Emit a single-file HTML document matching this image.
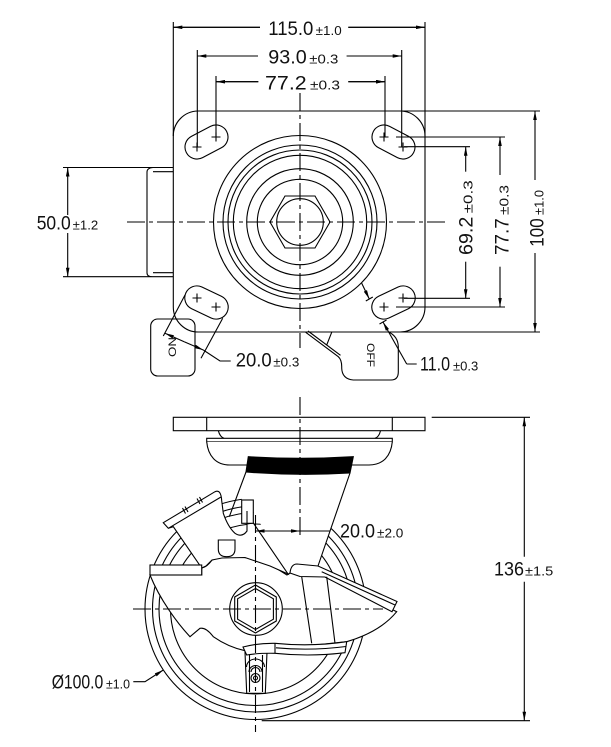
<!DOCTYPE html>
<html><head><meta charset="utf-8"><style>
html,body{margin:0;padding:0;background:#fff;}
svg{display:block;}
text{font-family:"Liberation Sans",sans-serif;fill:#111;}
.m{font-size:19px;}
.t{font-size:13px;}
.s{font-size:11px;}
</style></head><body>
<svg width="611" height="747" viewBox="0 0 611 747" xmlns="http://www.w3.org/2000/svg">
<defs>
<marker id="a" viewBox="0 0 10 4" refX="10" refY="2" markerWidth="10" markerHeight="3.6" markerUnits="userSpaceOnUse" orient="auto"><path d="M0,0L10,2L0,4Z" fill="#000"/></marker>
</defs>
<g fill="none" stroke="#000" stroke-width="1.1">
<!-- ===== TOP VIEW ===== -->
<path d="M173.3,22V307 M425,22V307 M198,111H540 M195,332H540"/>
<path d="M173.3,136A25,25 0 0 1 198,111 M400,111A25,25 0 0 1 425,136 M425,307A25,25 0 0 1 400,332 M199,332A25,25 0 0 1 173.3,307"/>
<!-- slots -->
<rect x="-22.75" y="-12" width="45.5" height="24" rx="12" transform="translate(206.5,142) rotate(-27.8)"/>
<rect x="-22.75" y="-12" width="45.5" height="24" rx="12" transform="translate(393.5,142) rotate(27.8)"/>
<rect x="-22.75" y="-12" width="45.5" height="24" rx="12" transform="translate(206.5,302.5) rotate(25.3)"/>
<rect x="-22.75" y="-12" width="45.5" height="24" rx="12" transform="translate(393.5,302.5) rotate(-25.3)"/>
<path d="M192.5,147h9M197,142.5v9 M211.5,137h9M216,132.5v9 M379.5,137h9M384,132.5v9 M398.5,147h9M403,142.5v9 M192.5,298h9M197,293.5v9 M211.5,307h9M216,302.5v9 M379.5,307h9M384,302.5v9 M398.5,298h9M403,293.5v9"/>
<!-- circles -->
<circle cx="300" cy="222" r="86.5"/>
<circle cx="300" cy="222" r="77"/>
<circle cx="300" cy="222" r="72"/>
<circle cx="300" cy="222" r="66.7"/>
<circle cx="300" cy="222" r="53.3"/>
<circle cx="300" cy="222" r="42.7"/>
<circle cx="300" cy="222" r="23.3"/>
<path d="M330,222L315,248H285L270,222L285,196H315Z"/>
<!-- centerlines -->
<path d="M300,93V348 M127,222H447" stroke-dasharray="18 4 4 4"/>
<!-- left bracket -->
<path d="M63,167.5H173.3 M63,276.7H173.3 M153,171.7H173.3 M153,272.7H173.3 M153,167.5Q147,168 147,172V272.7Q147,277 153,276.7"/>
<!-- ON tab -->
<rect x="150.7" y="319" width="44.3" height="57" rx="7"/>
<!-- OFF shape -->
<path d="M305.7,332.3L338.3,356.7Q342,360 341.7,368Q342,379 353.3,380H391Q398.3,380 398.3,372V346.7Q398,336 388,331.7"/>
<path d="M308,331L340.5,355.3 M326.7,345L331.7,332.3"/>
<!-- top dims -->
<path d="M197.3,50V147 M401.7,50V147 M216,76V137 M385,76V137"/>
<path d="M260,27.3H173.3 M348.3,27.3H425 M258,56H197.3 M346.7,56H401.7 M258.3,81.7H216 M348.3,81.7H385" marker-end="url(#a)"/>
<path d="M260,27.3H173.3" marker-end="url(#a)"/>
<path d="M348.3,27.3H425" marker-end="url(#a)"/>
<path d="M258,56H197.3" marker-end="url(#a)"/>
<path d="M346.7,56H401.7" marker-end="url(#a)"/>
<path d="M258.3,81.7H216" marker-end="url(#a)"/>
<path d="M348.3,81.7H385" marker-end="url(#a)"/>
<!-- left dim -->
<path d="M67.7,215V167.5" marker-end="url(#a)"/>
<path d="M67.7,233V276.7" marker-end="url(#a)"/>
<!-- right dims -->
<path d="M396,137H505 M404,146.7H470 M404,298.3H470 M396,307H505"/>
<path d="M465.7,171.7V146.7" marker-end="url(#a)"/>
<path d="M465.7,261.7V298.3" marker-end="url(#a)"/>
<path d="M500,175V137" marker-end="url(#a)"/>
<path d="M500,266.7V307" marker-end="url(#a)"/>
<path d="M535,180V111" marker-end="url(#a)"/>
<path d="M535,253V332" marker-end="url(#a)"/>
<!-- 20.0 slot dim -->
<path d="M185,295L163.3,336 M222.7,318.3L201,358.3 M203.3,350L220,361H230.7"/>
<path d="M184.2,341.7L165,333.3" marker-end="url(#a)"/>
<path d="M184.2,341.7L203.3,350" marker-end="url(#a)"/>
<!-- 11.0 dim -->
<path d="M361.7,283.3L369.3,299" marker-end="url(#a)"/>
<path d="M406.7,364L383,322" marker-end="url(#a)"/>
<path d="M406.7,364H416.7 M365.8,301L372.8,297 M379.5,324L386.5,320"/>

<!-- ===== SIDE VIEW ===== -->
<!-- wheel -->
<circle cx="255.5" cy="609" r="110.5"/>
<circle cx="255.5" cy="609" r="103"/>
<circle cx="255.5" cy="609" r="96.5"/>
<circle cx="255.5" cy="609" r="85"/>
<!-- fork fill -->
<path d="M246,472L350,473L318,566L290,573L253.3,512V500H241.7L243,480Z" fill="#fff" stroke="none"/>
<path d="M246,472L229.3,516.7 M350,473L318,566"/>
<!-- body -->
<path d="M150,575C160,600 178,624 190,636.7L200,628.3Q206,627 213.3,636.7Q228,647 245,650.7L268,650L346.7,641.7Q380,632 396.7,611.7L325,577L290,573L287,575Q265,560 240,556.7Q222,556 212,560Q207,567 201.7,568V575Z" fill="#fff"/>
<!-- pedal -->
<path d="M163.3,522.7L215,491.7Q221,489 221.7,500.7L223.3,513.3Q228,527 235,533.3Q242,538 247,531L247,524L253.3,523L288,574L270,566L245,557.5L222,558L212,560L206,566L201.7,568L173.3,526.7L168.3,528.3Z" fill="#fff"/>
<path d="M168.3,528.3L221,497 M182.5,508L185.5,513.5 M185,506.5L188,512 M197,498.5L200,504 M199.5,497L202.5,502.5"/>
<rect x="241.7" y="500" width="11.6" height="23.3" fill="#fff"/>
<path d="M247,511V523"/>
<path d="M218.3,540H235V549Q235,556.7 226.7,556.7Q218.3,556.7 218.3,549Z" fill="#fff"/>
<rect x="150" y="565" width="51.7" height="10" fill="#fff"/>
<!-- lever strip -->
<path d="M290,573Q291,564 297,564L318,566L397,601.5L392,611.7L325,577L300,576.5Z" fill="#fff"/>
<path d="M321.7,571.7L395,605 M301.7,576.7L311.7,643.3 M326.7,576.7L335,643.3"/>
<!-- bracket -->
<path d="M245,652L246.7,693.3H265.3L267,652Z" fill="#fff"/>
<path d="M249.5,655V692 M262.5,655V692"/>
<path d="M249,672A6.5,6.5 0 0 1 262,672 M251,672A4.5,4.5 0 0 1 260,672 M246.5,667A9,8 0 0 1 264.5,667"/>
<circle cx="255.5" cy="678" r="4.5"/>
<circle cx="255.5" cy="678" r="2"/>
<!-- lower strip -->
<path d="M243,647Q258,643 275,643.3Q311,647 346.7,641.7L345,652.7Q310,657 275,653.3Q258,653 246.7,655Z" fill="#fff"/>
<path d="M275,643.3V653.3 M276,647.8Q311,651 346,646.5"/>
<!-- hub -->
<circle cx="256" cy="609" r="26.3" fill="#fff"/>
<path d="M255.5,585L276.3,597V621L255.5,633L234.7,621V597Z"/>
<path d="M255.5,588.5L273.4,598.8V619.2L255.5,629.5L237.6,619.2V598.8Z"/>
<!-- plate & head -->
<rect x="173.3" y="417.3" width="251.7" height="13.4" fill="#fff"/>
<path d="M206.7,417.3V430.7 M392.3,417.3V430.7"/>
<path d="M218.3,430.7Q220,437 224,438.3 M380.5,430.7Q379,437 375,438.3"/>
<path d="M206.7,441.7V438.3H392.3V441.7Z"/>
<path d="M206.7,441.7C208,456 216,465 230,465H369C383,465 391,456 392.3,441.7" fill="#fff"/>
<path d="M248.3,456.7Q300,460 353.3,456.7L350,473Q298,476 246,472Z" fill="#000"/>
<!-- side centerlines -->
<path d="M300,397V537 M255.5,515V732 M133,609H383" stroke-dasharray="18 4 4 4"/>
<!-- 20.0 side dim -->
<path d="M277,531H255.5" marker-end="url(#a)"/>
<path d="M277,531H300" marker-end="url(#a)"/>
<path d="M300,531H330"/>
<!-- 136 dim -->
<path d="M431.7,417.3H530 M261.7,720.7H530"/>
<path d="M524.3,556.7V417.3" marker-end="url(#a)"/>
<path d="M524.3,581.7V720.7" marker-end="url(#a)"/>
<!-- diameter leader -->
<path d="M133.3,681.7H145L163.3,670" marker-end="url(#a)"/>
</g>

<!-- TEXT -->
<text class="m" x="268.3" y="35" textLength="45" lengthAdjust="spacingAndGlyphs">115.0</text>
<text class="t" x="315.7" y="35" textLength="26" lengthAdjust="spacingAndGlyphs">±1.0</text>
<text class="m" x="268.3" y="63.3" textLength="38.4" lengthAdjust="spacingAndGlyphs">93.0</text>
<text class="t" x="309.3" y="63.3" textLength="29" lengthAdjust="spacingAndGlyphs">±0.3</text>
<text class="m" x="265" y="89.3" textLength="41.7" lengthAdjust="spacingAndGlyphs">77.2</text>
<text class="t" x="310" y="89.3" textLength="30" lengthAdjust="spacingAndGlyphs">±0.3</text>
<text class="m" x="36.7" y="229.3" textLength="34" lengthAdjust="spacingAndGlyphs">50.0</text>
<text class="t" x="72.7" y="229.3" textLength="25.6" lengthAdjust="spacingAndGlyphs">±1.2</text>
<text class="m" x="235.7" y="366.7" textLength="36" lengthAdjust="spacingAndGlyphs">20.0</text>
<text class="t" x="273.3" y="366.7" textLength="26" lengthAdjust="spacingAndGlyphs">±0.3</text>
<text class="m" x="420" y="370.5" textLength="30" lengthAdjust="spacingAndGlyphs">11.0</text>
<text class="t" x="453" y="370.5" textLength="25.3" lengthAdjust="spacingAndGlyphs">±0.3</text>
<text class="m" x="340" y="537.7" textLength="35" lengthAdjust="spacingAndGlyphs">20.0</text>
<text class="t" x="377" y="537.7" textLength="26.3" lengthAdjust="spacingAndGlyphs">±2.0</text>
<text class="m" x="494" y="575.7" textLength="30" lengthAdjust="spacingAndGlyphs">136</text>
<text class="t" x="525" y="575.7" textLength="28.3" lengthAdjust="spacingAndGlyphs">±1.5</text>
<text class="m" x="51.7" y="688.3" textLength="51.6" lengthAdjust="spacingAndGlyphs">Ø100.0</text>
<text class="t" x="106" y="688.3" textLength="24" lengthAdjust="spacingAndGlyphs">±1.0</text>

<text class="m" transform="translate(472.7,255) rotate(-90)" textLength="38.3" lengthAdjust="spacingAndGlyphs">69.2</text>
<text class="t" transform="translate(472.7,213.3) rotate(-90)" textLength="33" lengthAdjust="spacingAndGlyphs">±0.3</text>
<text class="m" transform="translate(508.3,255) rotate(-90)" textLength="36.7" lengthAdjust="spacingAndGlyphs">77.7</text>
<text class="t" transform="translate(508.3,215) rotate(-90)" textLength="30" lengthAdjust="spacingAndGlyphs">±0.3</text>
<text class="m" transform="translate(543.3,246.7) rotate(-90)" textLength="28.4" lengthAdjust="spacingAndGlyphs">100</text>
<text class="t" transform="translate(543.3,215) rotate(-90)" textLength="25" lengthAdjust="spacingAndGlyphs">±1.0</text>

<text class="s" transform="translate(176,357) rotate(-90)" textLength="20" lengthAdjust="spacingAndGlyphs">ON</text>
<text class="s" transform="translate(367,343) rotate(90)" textLength="24" lengthAdjust="spacingAndGlyphs">OFF</text>
</svg>
</body></html>
